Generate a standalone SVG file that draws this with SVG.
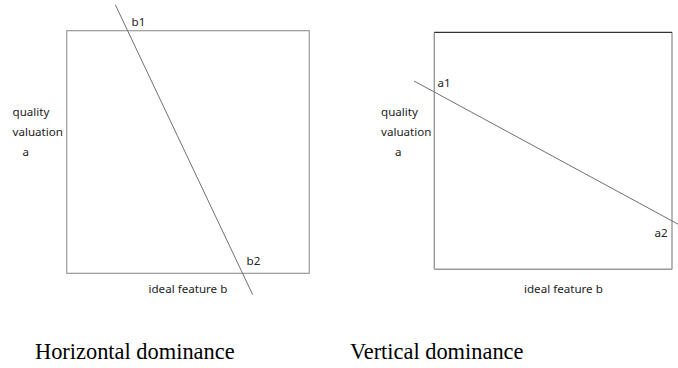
<svg xmlns="http://www.w3.org/2000/svg" width="678" height="368" viewBox="0 0 678 368">
  <style>
    .frame { fill: none; stroke: #9a9a9a; stroke-width: 1.2; }
    .edge { stroke: #9a9a9a; stroke-width: 1.4; }
    .top { stroke: #333333; stroke-width: 1.2; }
    .cut { stroke: #707070; stroke-width: 1; fill: none; }
    .lbl { font-family: "Noto Sans", "Open Sans", sans-serif; font-size: 11.6px; fill: #222222; }
    .cap { font-family: "Liberation Serif", "Times New Roman", serif; font-size: 22.4px; fill: #000000; }
  </style>
  <rect width="678" height="368" fill="#ffffff"/>

  <!-- Left panel: horizontal dominance -->
  <g id="horizontal-panel">
    <rect class="frame" x="66.7" y="30.7" width="242.6" height="242.6"/>
    <text class="lbl" x="12.5" y="116">quality</text>
    <text class="lbl" x="12.5" y="136">valuation</text>
    <text class="lbl" x="22.5" y="156">a</text>
    <text class="lbl" x="148.5" y="293">ideal feature b</text>
    <text class="lbl" x="131.5" y="26">b1</text>
    <text class="lbl" x="246.5" y="265">b2</text>
  </g>

  <!-- Right panel: vertical dominance -->
  <g id="vertical-panel">
    <line class="edge" x1="434.3" y1="32.3" x2="434.3" y2="269.3"/>
    <line class="edge" x1="434.3" y1="269.3" x2="672" y2="269.3"/>
    <line class="edge" x1="672" y1="32.3" x2="672" y2="269.3"/>
    <line class="top" x1="434.3" y1="32.3" x2="672" y2="32.3"/>
    <text class="lbl" x="381" y="116">quality</text>
    <text class="lbl" x="381" y="136">valuation</text>
    <text class="lbl" x="395" y="156">a</text>
    <text class="lbl" x="524" y="293">ideal feature b</text>
    <text class="lbl" x="437.5" y="87">a1</text>
    <text class="lbl" x="654.5" y="237">a2</text>
  </g>

  <!-- Dominance lines -->
  <g id="connectors">
    <line class="cut" x1="115.3" y1="4.7" x2="252.7" y2="294.7"/>
    <line class="cut" x1="414" y1="81" x2="678.3" y2="224.3"/>
  </g>

  <g id="captions">
    <text class="cap" x="35" y="359">Horizontal dominance</text>
    <text class="cap" x="350" y="359">Vertical dominance</text>
  </g>
</svg>
